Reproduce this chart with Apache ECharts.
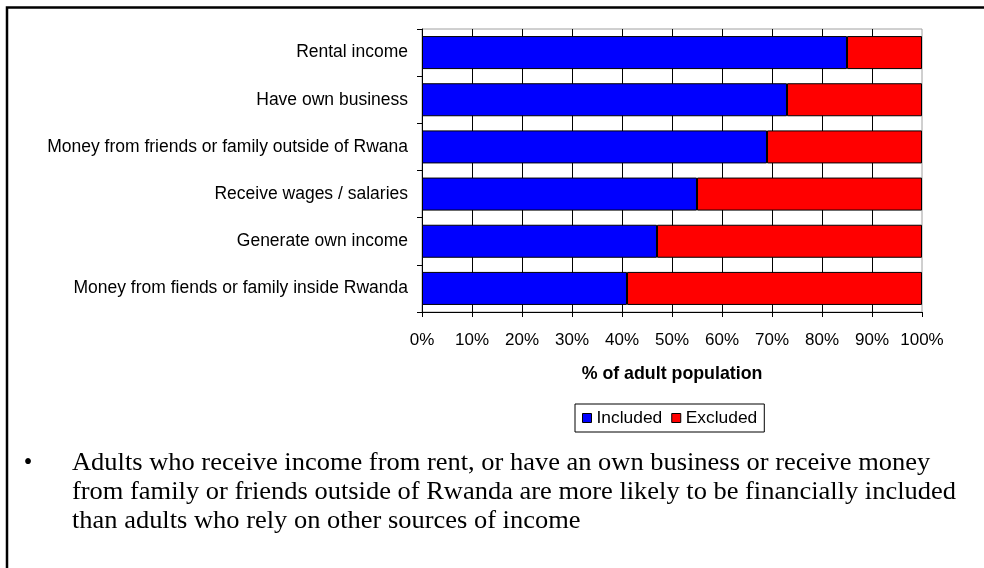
<!DOCTYPE html>
<html>
<head>
<meta charset="utf-8">
<script src="https://cdn.jsdelivr.net/npm/echarts@6/dist/echarts.min.js"></script>
<style>
  html, body { margin: 0; padding: 0; background: #ffffff; }
  #chart { width: 984px; height: 568px; }
</style>
</head>
<body>
<div id="chart"></div>
<script>
// Income sources, listed top to bottom
const categories = [
  'Rental income',
  'Have own business',
  'Money from friends or family outside of Rwana',
  'Receive wages / salaries',
  'Generate own income',
  'Money from fiends or family inside Rwanda'
];
// Share of adults in each group (%)
const included = [85, 73, 69, 55, 47, 41];
const excluded = [15, 27, 31, 45, 53, 59];
const seriesNames = ['Included', 'Excluded'];
const axisTitle = '% of adult population';
// Commentary printed under the chart, one entry per line
const noteLines = [
  'Adults who receive income from rent, or have an own business or receive money',
  'from family or friends outside of Rwanda are more likely to be financially included',
  'than adults who rely on other sources of income'
];

const SANS = '"Liberation Sans", Arial, sans-serif';
const SERIF = '"Liberation Serif", "Times New Roman", serif';

const chart = echarts.init(document.getElementById('chart'), null, { renderer: 'canvas' });

const noteGraphics = [];
noteLines.forEach(function (line, i) {
  noteGraphics.push({
    type: 'text',
    x: 72,
    y: 464 + i * 29,
    scaleX: 1.08,
    style: {
      text: line,
      fontFamily: SERIF,
      fontSize: 24.5,
      fill: '#000',
      align: 'left',
      verticalAlign: 'middle'
    }
  });
});

const option = {
  backgroundColor: '#ffffff',
  animation: false,
  grid: {
    left: 422,
    top: 29,
    width: 500,
    height: 283,
    show: true,
    borderColor: '#a0a0a0',
    borderWidth: 1,
    backgroundColor: 'transparent'
  },
  legend: {
    data: seriesNames,
    left: 575,
    top: 404,
    orient: 'horizontal',
    icon: 'rect',
    itemWidth: 9,
    itemHeight: 9,
    itemGap: 9,
    padding: [4, 7],
    borderColor: '#000',
    borderWidth: 1,
    itemStyle: { borderColor: '#000', borderWidth: 1 },
    textStyle: { fontFamily: SANS, fontSize: 17.4, color: '#000', lineHeight: 20 }
  },
  xAxis: {
    type: 'value',
    min: 0,
    max: 100,
    interval: 10,
    name: axisTitle,
    nameLocation: 'middle',
    nameGap: 53,
    nameTextStyle: { fontFamily: SANS, fontSize: 17.8, fontWeight: 'bold', color: '#000' },
    axisLine: { show: true, lineStyle: { color: '#000', width: 1 } },
    axisTick: { show: true, length: 5, lineStyle: { color: '#000' } },
    axisLabel: {
      formatter: '{value}%',
      fontFamily: SANS,
      fontSize: 17,
      color: '#000',
      margin: 20
    },
    splitLine: {
      show: true,
      showMinLine: false,
      showMaxLine: false,
      lineStyle: { color: '#000', width: 1 }
    }
  },
  yAxis: {
    type: 'category',
    data: categories,
    inverse: true,
    axisLine: { show: true, lineStyle: { color: '#000', width: 1 } },
    axisTick: { show: true, length: 5, lineStyle: { color: '#000' } },
    axisLabel: { fontFamily: SANS, fontSize: 17.5, color: '#000', margin: 14 },
    splitLine: { show: false }
  },
  series: [
    {
      name: seriesNames[0],
      type: 'bar',
      stack: 'total',
      data: included,
      barCategoryGap: '30%',
      itemStyle: { color: '#0000ff', borderColor: '#000', borderWidth: 1 }
    },
    {
      name: seriesNames[1],
      type: 'bar',
      stack: 'total',
      data: excluded,
      barCategoryGap: '30%',
      itemStyle: { color: '#ff0000', borderColor: '#000', borderWidth: 1 }
    }
  ],
  graphic: [
    {
      type: 'polyline',
      shape: { points: [[7, 568], [7, 7.5], [984, 7.5]] },
      style: { stroke: '#000', lineWidth: 2.5, fill: null }
    },
    {
      type: 'text',
      x: 28,
      y: 464,
      style: {
        text: '\u2022',
        fontFamily: SERIF,
        fontSize: 24.5,
        fill: '#000',
        align: 'center',
        verticalAlign: 'middle'
      }
    }
  ].concat(noteGraphics)
};

chart.setOption(option);
</script>
</body>
</html>
